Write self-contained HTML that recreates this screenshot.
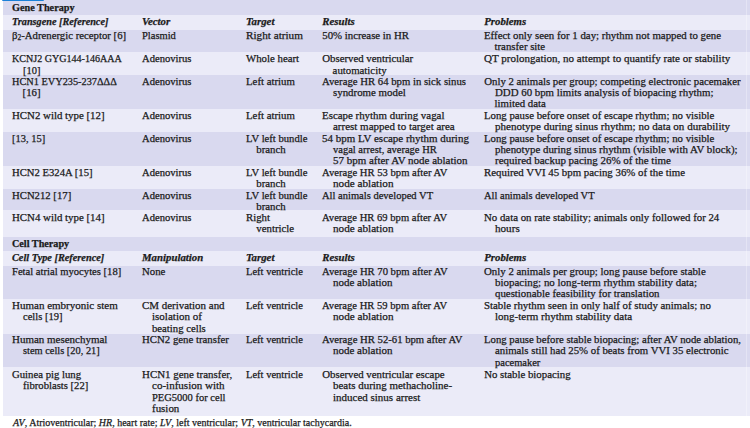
<!DOCTYPE html>
<html><head><meta charset="utf-8"><style>
html,body{margin:0;padding:0;background:#fff;width:750px;height:428px;overflow:hidden;position:relative}
body{font-family:"Liberation Serif",serif;font-size:10.8px;color:#1a1a1a;-webkit-text-stroke:0.25px #1a1a1a}
.r{position:absolute;left:3px;width:747px}
.l{position:absolute;white-space:nowrap;line-height:12px;height:12px;transform-origin:0 0}
.h{font-weight:bold}
.s{font-style:italic;font-weight:bold}
sub{font-size:70%;vertical-align:baseline;position:relative;top:1.5px;line-height:0}
#bar{position:absolute;left:2px;top:0;width:42px;height:1.2px;background:#1a80d8;border-radius:0 0 2px 2px}
</style></head><body>

<div class="r" style="top:0px;height:14.80px;background:#d9d9ef"></div>
<div class="r" style="top:14.8px;height:15.20px;background:#ebebf8"></div>
<div class="r" style="top:30px;height:21.60px;background:#d9d9ef"></div>
<div class="r" style="top:51.6px;height:23.60px;background:#ebebf8"></div>
<div class="r" style="top:75.2px;height:33.70px;background:#d9d9ef"></div>
<div class="r" style="top:108.9px;height:22.90px;background:#ebebf8"></div>
<div class="r" style="top:131.8px;height:33.80px;background:#d9d9ef"></div>
<div class="r" style="top:165.6px;height:23.60px;background:#ebebf8"></div>
<div class="r" style="top:189.2px;height:20.80px;background:#d9d9ef"></div>
<div class="r" style="top:210px;height:27.40px;background:#ebebf8"></div>
<div class="r" style="top:237.4px;height:13.60px;background:#d9d9ef"></div>
<div class="r" style="top:251px;height:14.80px;background:#ebebf8"></div>
<div class="r" style="top:265.8px;height:33.20px;background:#d9d9ef"></div>
<div class="r" style="top:299px;height:34.60px;background:#ebebf8"></div>
<div class="r" style="top:333.6px;height:33.60px;background:#d9d9ef"></div>
<div class="r" style="top:367.2px;height:48.40px;background:#ebebf8"></div>
<div id="r0c0l0" class="l h" style="left:12.30px;top:1.20px;transform:scaleX(0.9474)">Gene Therapy</div>
<div id="r1c0l0" class="l s" style="left:12.30px;top:14.90px;transform:scaleX(0.9457)">Transgene [Reference]</div>
<div id="r1c1l0" class="l s" style="left:142.00px;top:14.90px">Vector</div>
<div id="r1c2l0" class="l s" style="left:246.00px;top:14.90px">Target</div>
<div id="r1c3l0" class="l s" style="left:322.30px;top:14.90px">Results</div>
<div id="r1c4l0" class="l s" style="left:484.20px;top:14.90px">Problems</div>
<div id="r2c0l0" class="l" style="left:12.30px;top:28.80px;transform:scaleX(0.9956)">β<sub>2</sub>-Adrenergic receptor [6]</div>
<div id="r2c1l0" class="l" style="left:142.00px;top:28.80px;transform:scaleX(0.9714)">Plasmid</div>
<div id="r2c2l0" class="l" style="left:246.00px;top:28.80px;transform:scaleX(1.0368)">Right atrium</div>
<div id="r2c3l0" class="l" style="left:322.30px;top:28.80px">50% increase in HR</div>
<div id="r2c4l0" class="l" style="left:484.20px;top:28.80px;transform:scaleX(1.0042)">Effect only seen for 1 day; rhythm not mapped to gene</div>
<div id="r2c4l1" class="l" style="left:494.50px;top:39.90px">transfer site</div>
<div id="r3c0l0" class="l" style="left:12.30px;top:52.40px;transform:scaleX(0.9318)">KCNJ2 GYG144-146AAA</div>
<div id="r3c0l1" class="l" style="left:22.60px;top:63.50px;transform:scaleX(0.9700)">[10]</div>
<div id="r3c1l0" class="l" style="left:142.00px;top:52.40px;transform:scaleX(0.9820)">Adenovirus</div>
<div id="r3c2l0" class="l" style="left:246.00px;top:52.40px">Whole heart</div>
<div id="r3c3l0" class="l" style="left:322.30px;top:52.40px">Observed ventricular</div>
<div id="r3c3l1" class="l" style="left:332.60px;top:63.50px">automaticity</div>
<div id="r3c4l0" class="l" style="left:484.20px;top:52.40px;transform:scaleX(1.0208)">QT prolongation, no attempt to quantify rate or stability</div>
<div id="r4c0l0" class="l" style="left:12.30px;top:75.00px;transform:scaleX(0.9542)">HCN1 EVY235-237ΔΔΔ</div>
<div id="r4c0l1" class="l" style="left:22.60px;top:86.10px">[16]</div>
<div id="r4c1l0" class="l" style="left:142.00px;top:75.00px;transform:scaleX(0.9820)">Adenovirus</div>
<div id="r4c2l0" class="l" style="left:246.00px;top:75.00px">Left atrium</div>
<div id="r4c3l0" class="l" style="left:322.30px;top:75.00px;transform:scaleX(0.9931)">Average HR 64 bpm in sick sinus</div>
<div id="r4c3l1" class="l" style="left:332.60px;top:86.10px;transform:scaleX(1.0072)">syndrome model</div>
<div id="r4c4l0" class="l" style="left:484.20px;top:75.00px">Only 2 animals per group; competing electronic pacemaker</div>
<div id="r4c4l1" class="l" style="left:494.50px;top:86.10px;transform:scaleX(1.0047)">DDD 60 bpm limits analysis of biopacing rhythm;</div>
<div id="r4c4l2" class="l" style="left:494.50px;top:97.20px">limited data</div>
<div id="r5c0l0" class="l" style="left:12.30px;top:109.20px;transform:scaleX(1.0055)">HCN2 wild type [12]</div>
<div id="r5c1l0" class="l" style="left:142.00px;top:109.20px;transform:scaleX(0.9820)">Adenovirus</div>
<div id="r5c2l0" class="l" style="left:246.00px;top:109.20px">Left atrium</div>
<div id="r5c3l0" class="l" style="left:322.30px;top:109.20px;transform:scaleX(1.0083)">Escape rhythm during vagal</div>
<div id="r5c3l1" class="l" style="left:332.60px;top:120.10px;transform:scaleX(1.0168)">arrest mapped to target area</div>
<div id="r5c4l0" class="l" style="left:484.20px;top:109.20px;transform:scaleX(0.9978)">Long pause before onset of escape rhythm; no visible</div>
<div id="r5c4l1" class="l" style="left:494.50px;top:120.10px;transform:scaleX(1.0219)">phenotype during sinus rhythm; no data on durability</div>
<div id="r6c0l0" class="l" style="left:12.30px;top:131.60px;transform:scaleX(0.9700)">[13, 15]</div>
<div id="r6c1l0" class="l" style="left:142.00px;top:131.60px;transform:scaleX(0.9820)">Adenovirus</div>
<div id="r6c2l0" class="l" style="left:246.00px;top:131.60px;transform:scaleX(0.9838)">LV left bundle</div>
<div id="r6c2l1" class="l" style="left:256.30px;top:142.70px">branch</div>
<div id="r6c3l0" class="l" style="left:322.30px;top:131.60px;transform:scaleX(1.0139)">54 bpm LV escape rhythm during</div>
<div id="r6c3l1" class="l" style="left:332.60px;top:142.70px;transform:scaleX(0.9718)">vagal arrest, average HR</div>
<div id="r6c3l2" class="l" style="left:332.60px;top:153.80px;transform:scaleX(1.0152)">57 bpm after AV node ablation</div>
<div id="r6c4l0" class="l" style="left:484.20px;top:131.60px;transform:scaleX(0.9978)">Long pause before onset of escape rhythm; no visible</div>
<div id="r6c4l1" class="l" style="left:494.50px;top:142.70px;transform:scaleX(1.0063)">phenotype during sinus rhythm (visible with AV block);</div>
<div id="r6c4l2" class="l" style="left:494.50px;top:153.80px;transform:scaleX(1.0145)">required backup pacing 26% of the time</div>
<div id="r7c0l0" class="l" style="left:12.30px;top:165.70px;transform:scaleX(0.9876)">HCN2 E324A [15]</div>
<div id="r7c1l0" class="l" style="left:142.00px;top:165.70px;transform:scaleX(0.9820)">Adenovirus</div>
<div id="r7c2l0" class="l" style="left:246.00px;top:165.70px;transform:scaleX(0.9838)">LV left bundle</div>
<div id="r7c2l1" class="l" style="left:256.30px;top:176.80px">branch</div>
<div id="r7c3l0" class="l" style="left:322.30px;top:165.70px;transform:scaleX(0.9835)">Average HR 53 bpm after AV</div>
<div id="r7c3l1" class="l" style="left:332.60px;top:176.80px;transform:scaleX(1.0347)">node ablation</div>
<div id="r7c4l0" class="l" style="left:484.20px;top:165.70px;transform:scaleX(1.0050)">Required VVI 45 bpm pacing 36% of the time</div>
<div id="r8c0l0" class="l" style="left:12.30px;top:188.80px;transform:scaleX(0.9919)">HCN212 [17]</div>
<div id="r8c1l0" class="l" style="left:142.00px;top:188.80px;transform:scaleX(0.9820)">Adenovirus</div>
<div id="r8c2l0" class="l" style="left:246.00px;top:188.80px;transform:scaleX(0.9838)">LV left bundle</div>
<div id="r8c2l1" class="l" style="left:256.30px;top:199.90px">branch</div>
<div id="r8c3l0" class="l" style="left:322.30px;top:188.80px;transform:scaleX(0.9738)">All animals developed VT</div>
<div id="r8c4l0" class="l" style="left:484.20px;top:188.80px;transform:scaleX(0.9695)">All animals developed VT</div>
<div id="r9c0l0" class="l" style="left:12.30px;top:210.80px;transform:scaleX(1.0055)">HCN4 wild type [14]</div>
<div id="r9c1l0" class="l" style="left:142.00px;top:210.80px;transform:scaleX(0.9820)">Adenovirus</div>
<div id="r9c2l0" class="l" style="left:246.00px;top:210.80px">Right</div>
<div id="r9c2l1" class="l" style="left:256.30px;top:221.70px">ventricle</div>
<div id="r9c3l0" class="l" style="left:322.30px;top:210.80px;transform:scaleX(0.9804)">Average HR 69 bpm after AV</div>
<div id="r9c3l1" class="l" style="left:332.60px;top:221.70px;transform:scaleX(1.0347)">node ablation</div>
<div id="r9c4l0" class="l" style="left:484.20px;top:210.80px;transform:scaleX(1.0021)">No data on rate stability; animals only followed for 24</div>
<div id="r9c4l1" class="l" style="left:494.50px;top:221.70px;transform:scaleX(1.0300)">hours</div>
<div id="r10c0l0" class="l h" style="left:12.30px;top:237.00px;transform:scaleX(0.9420)">Cell Therapy</div>
<div id="r11c0l0" class="l s" style="left:12.30px;top:250.80px;transform:scaleX(0.9533)">Cell Type [Reference]</div>
<div id="r11c1l0" class="l s" style="left:142.00px;top:250.80px">Manipulation</div>
<div id="r11c2l0" class="l s" style="left:246.00px;top:250.80px">Target</div>
<div id="r11c3l0" class="l s" style="left:322.30px;top:250.80px">Results</div>
<div id="r11c4l0" class="l s" style="left:484.20px;top:250.80px">Problems</div>
<div id="r12c0l0" class="l" style="left:12.30px;top:265.00px;transform:scaleX(0.9819)">Fetal atrial myocytes [18]</div>
<div id="r12c1l0" class="l" style="left:142.00px;top:265.00px">None</div>
<div id="r12c2l0" class="l" style="left:246.00px;top:265.00px;transform:scaleX(0.9742)">Left ventricle</div>
<div id="r12c3l0" class="l" style="left:322.30px;top:265.00px;transform:scaleX(0.9851)">Average HR 70 bpm after AV</div>
<div id="r12c3l1" class="l" style="left:332.60px;top:276.10px;transform:scaleX(1.0174)">node ablation</div>
<div id="r12c4l0" class="l" style="left:484.20px;top:265.00px;transform:scaleX(1.0046)">Only 2 animals per group; long pause before stable</div>
<div id="r12c4l1" class="l" style="left:494.50px;top:276.10px;transform:scaleX(1.0127)">biopacing; no long-term rhythm stability data;</div>
<div id="r12c4l2" class="l" style="left:494.50px;top:287.20px;transform:scaleX(1.0031)">questionable feasibility for translation</div>
<div id="r13c0l0" class="l" style="left:12.30px;top:298.70px;transform:scaleX(1.0194)">Human embryonic stem</div>
<div id="r13c0l1" class="l" style="left:22.60px;top:310.10px;transform:scaleX(0.9752)">cells [19]</div>
<div id="r13c1l0" class="l" style="left:142.00px;top:298.70px;transform:scaleX(1.0123)">CM derivation and</div>
<div id="r13c1l1" class="l" style="left:152.30px;top:310.10px;transform:scaleX(1.0209)">isolation of</div>
<div id="r13c1l2" class="l" style="left:152.30px;top:321.50px;transform:scaleX(0.9908)">beating cells</div>
<div id="r13c2l0" class="l" style="left:246.00px;top:298.70px;transform:scaleX(0.9742)">Left ventricle</div>
<div id="r13c3l0" class="l" style="left:322.30px;top:298.70px;transform:scaleX(0.9804)">Average HR 59 bpm after AV</div>
<div id="r13c3l1" class="l" style="left:332.60px;top:310.10px;transform:scaleX(1.0347)">node ablation</div>
<div id="r13c4l0" class="l" style="left:484.20px;top:298.70px;transform:scaleX(1.0045)">Stable rhythm seen in only half of study animals; no</div>
<div id="r13c4l1" class="l" style="left:494.50px;top:310.10px;transform:scaleX(1.0187)">long-term rhythm stability data</div>
<div id="r14c0l0" class="l" style="left:12.30px;top:333.10px;transform:scaleX(1.0162)">Human mesenchymal</div>
<div id="r14c0l1" class="l" style="left:22.60px;top:344.40px;transform:scaleX(0.9620)">stem cells [20, 21]</div>
<div id="r14c1l0" class="l" style="left:142.00px;top:333.10px">HCN2 gene transfer</div>
<div id="r14c2l0" class="l" style="left:246.00px;top:333.10px;transform:scaleX(0.9742)">Left ventricle</div>
<div id="r14c3l0" class="l" style="left:322.30px;top:333.10px;transform:scaleX(0.9894)">Average HR 52-61 bpm after AV</div>
<div id="r14c3l1" class="l" style="left:332.60px;top:344.40px;transform:scaleX(1.0174)">node ablation</div>
<div id="r14c4l0" class="l" style="left:484.20px;top:333.10px;transform:scaleX(0.9923)">Long pause before stable biopacing; after AV node ablation,</div>
<div id="r14c4l1" class="l" style="left:494.50px;top:344.40px;transform:scaleX(0.9979)">animals still had 25% of beats from VVI 35 electronic</div>
<div id="r14c4l2" class="l" style="left:494.50px;top:355.70px;transform:scaleX(0.9700)">pacemaker</div>
<div id="r15c0l0" class="l" style="left:12.30px;top:368.10px;transform:scaleX(0.9929)">Guinea pig lung</div>
<div id="r15c0l1" class="l" style="left:22.60px;top:379.35px;transform:scaleX(0.9849)">fibroblasts [22]</div>
<div id="r15c1l0" class="l" style="left:142.00px;top:368.10px;transform:scaleX(1.0114)">HCN1 gene transfer,</div>
<div id="r15c1l1" class="l" style="left:152.30px;top:379.35px;transform:scaleX(1.0215)">co-infusion with</div>
<div id="r15c1l2" class="l" style="left:152.30px;top:390.60px;transform:scaleX(0.9731)">PEG5000 for cell</div>
<div id="r15c1l3" class="l" style="left:152.30px;top:401.85px;transform:scaleX(1.0111)">fusion</div>
<div id="r15c2l0" class="l" style="left:246.00px;top:368.10px;transform:scaleX(0.9742)">Left ventricle</div>
<div id="r15c3l0" class="l" style="left:322.30px;top:368.10px">Observed ventricular escape</div>
<div id="r15c3l1" class="l" style="left:332.60px;top:379.35px;transform:scaleX(1.0129)">beats during methacholine-</div>
<div id="r15c3l2" class="l" style="left:332.60px;top:390.60px;transform:scaleX(1.0178)">induced sinus arrest</div>
<div id="r15c4l0" class="l" style="left:484.20px;top:368.10px">No stable biopacing</div>
<div id="foot" class="l" style="left:13.00px;top:416.20px;transform:scaleX(0.9259)"><i>AV</i>, Atrioventricular; <i>HR</i>, heart rate; <i>LV</i>, left ventricular; <i>VT</i>, ventricular tachycardia.</div>
<div id="bar"></div>
<div style="position:absolute;left:746px;top:0;width:1px;height:415.6px;background:rgba(255,255,255,0.3)"></div>
</body></html>
